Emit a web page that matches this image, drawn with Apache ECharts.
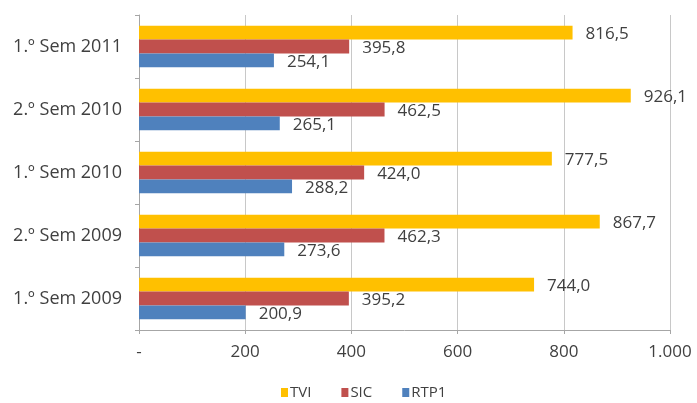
<!DOCTYPE html>
<html><head><meta charset="utf-8">
<script src="https://cdn.jsdelivr.net/npm/echarts@6/dist/echarts.min.js"></script>
<style>html,body{margin:0;padding:0;background:#fff}#c{width:697px;height:403px}</style>
</head><body><div id="c"></div>
<script>
var categories = ['1.º Sem 2009', '2.º Sem 2009', '1.º Sem 2010', '2.º Sem 2010', '1.º Sem 2011'];
var tvi = [744.0, 867.7, 777.5, 926.1, 816.5];
var sic = [395.2, 462.3, 424.0, 462.5, 395.8];
var rtp1 = [200.9, 273.6, 288.2, 265.1, 254.1];
var xTicks = ['-', '200', '400', '600', '800', '1.000'];

var FONT = 'Open Sans';
function fmt(v) { return v.toFixed(1).replace('.', ','); }
function lab() {
  return { show: true, position: 'right', distance: 13, offset: [0, 2], color: '#404040',
    fontFamily: FONT, fontSize: 17, formatter: function (p) { return fmt(p.value); } };
}
var chart = echarts.init(document.getElementById('c'), null, { renderer: 'canvas' });
chart.setOption({
  animation: false,
  grid: { left: 139, right: 27, top: 15, bottom: 73 },
  legend: {
    top: 380, left: 276, data: ['TVI', 'SIC', 'RTP1'],
    icon: 'rect', itemWidth: 7, itemHeight: 9, itemGap: 30,
    textStyle: { fontFamily: FONT, fontSize: 15, color: '#404040', padding: [0, 0, 0, -3] }
  },
  xAxis: {
    type: 'value', min: 0, max: 1000, interval: 200,
    axisLine: { show: true, lineStyle: { color: '#a6a6a6' } },
    axisTick: { show: true, length: 4, lineStyle: { color: '#a6a6a6' } },
    axisLabel: { color: '#404040', fontFamily: FONT, fontSize: 17, margin: 14,
      formatter: function (v) { return xTicks[Math.round(v / 200)]; } },
    splitLine: { show: true, lineStyle: { color: '#c8c8c8' } }
  },
  yAxis: {
    type: 'category', data: categories,
    axisLine: { show: true, lineStyle: { color: '#a6a6a6' } },
    axisTick: { show: true, length: 4, lineStyle: { color: '#a6a6a6' } },
    axisLabel: { color: '#404040', fontFamily: FONT, fontSize: 18, margin: 17 }
  },
  series: [
    { name: 'TVI', type: 'bar', data: tvi, barGap: '0%', barCategoryGap: '34%',
      itemStyle: { color: '#FFC000' }, label: lab() },
    { name: 'SIC', type: 'bar', data: sic, barGap: '0%', barCategoryGap: '34%',
      itemStyle: { color: '#C0504D' }, label: lab() },
    { name: 'RTP1', type: 'bar', data: rtp1, barGap: '0%', barCategoryGap: '34%',
      itemStyle: { color: '#4F81BD' }, label: lab() }
  ]
});
</script></body></html>
